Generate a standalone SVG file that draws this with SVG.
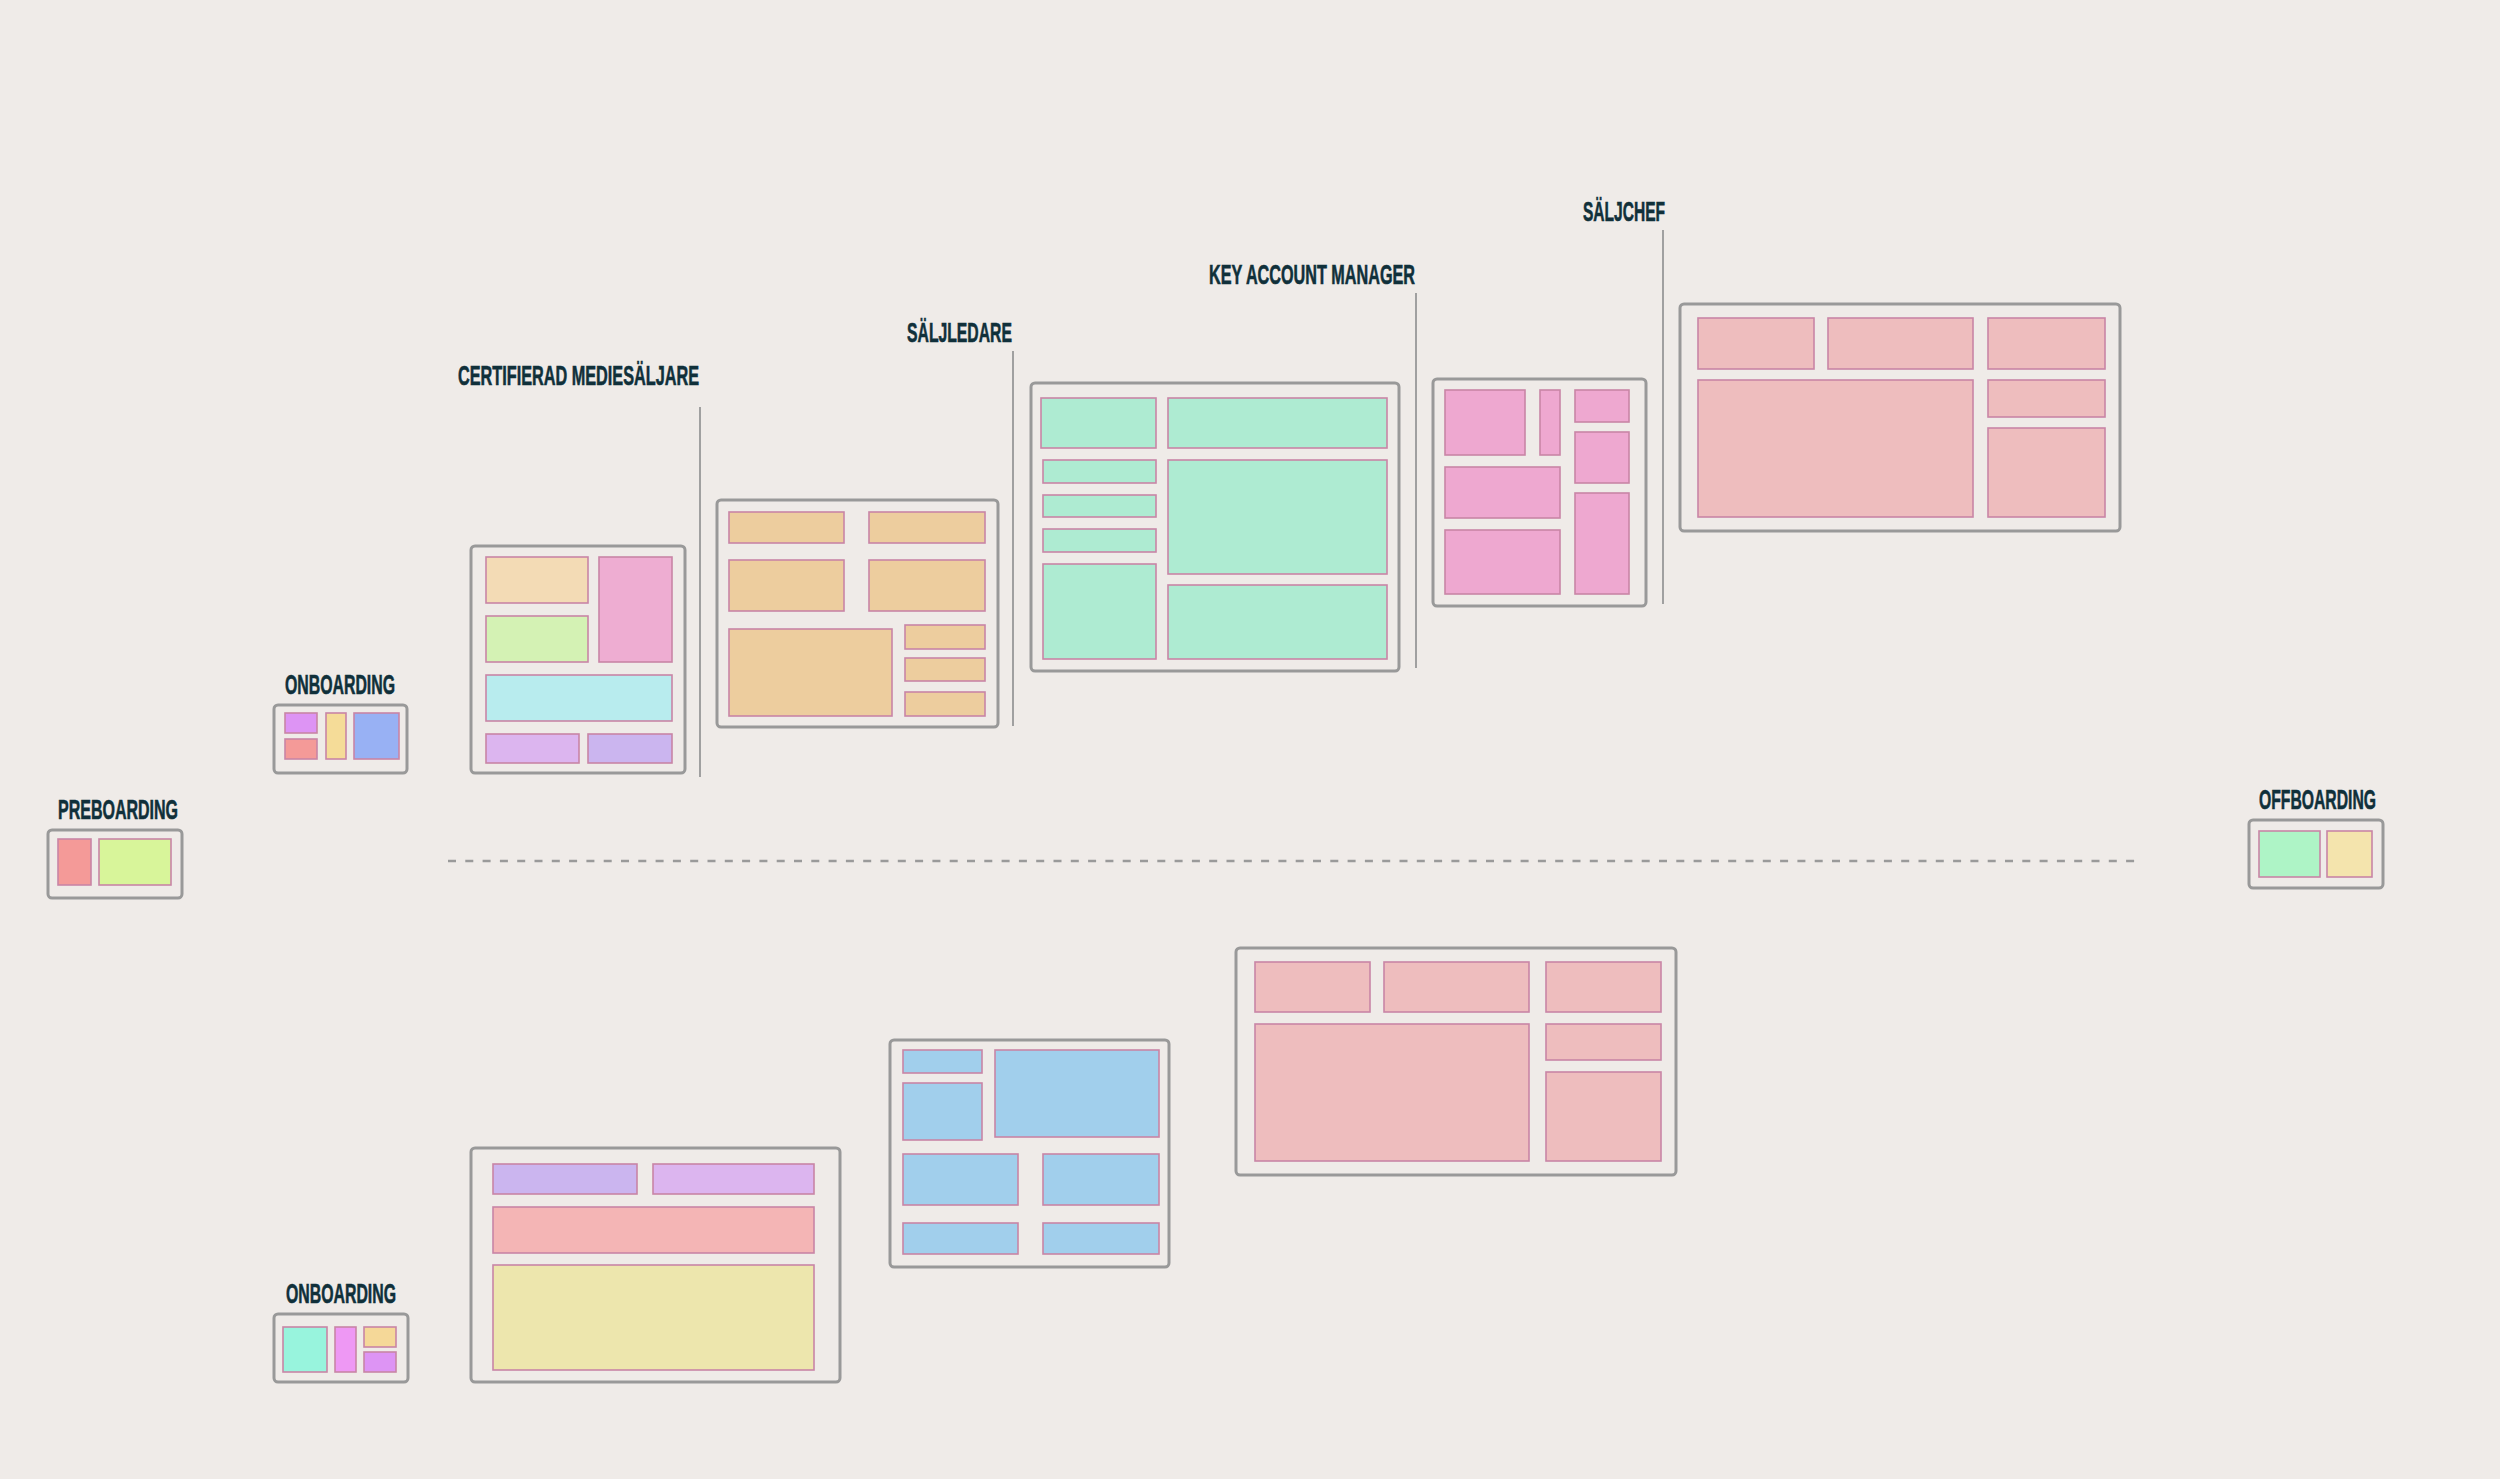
<svg xmlns="http://www.w3.org/2000/svg" width="2500" height="1479" viewBox="0 0 2500 1479">
<style>
.bg{fill:#efebe8}
.box{fill:#efebe8;stroke:#999999;stroke-width:3}
.c{stroke:#c985a6;stroke-width:1.6}
.lbl{font-family:"Liberation Sans","DejaVu Sans",sans-serif;font-weight:bold;font-size:27px;fill:#10303a;stroke:#10303a;stroke-width:0.6}
.vl{stroke:#a0a0a0;stroke-width:2;fill:none}
</style>
<rect class="bg" x="0" y="0" width="2500" height="1479"/>

<g id="connectors">
<line class="vl" x1="700" y1="407" x2="700" y2="777"/>
<line class="vl" x1="1013" y1="351" x2="1013" y2="726"/>
<line class="vl" x1="1416" y1="293" x2="1416" y2="668"/>
<line class="vl" x1="1663" y1="230" x2="1663" y2="604"/>
<line x1="448" y1="861" x2="2140" y2="861" stroke="#9a9a9a" stroke-width="2.5" stroke-dasharray="8 9.3"/>
</g>

<g id="preboarding">
<text class="lbl" x="58" y="819" textLength="120" lengthAdjust="spacingAndGlyphs">PREBOARDING</text>
<rect class="box" x="48" y="830" width="134" height="68" rx="4"/>
<rect class="c" x="58" y="839" width="33" height="46" fill="#f49a98"/>
<rect class="c" x="99" y="839" width="72" height="46" fill="#d8f59a"/>
</g>

<g id="onboarding-top">
<text class="lbl" x="285" y="694" textLength="110" lengthAdjust="spacingAndGlyphs">ONBOARDING</text>
<rect class="box" x="274" y="705" width="133" height="68" rx="4"/>
<rect class="c" x="285" y="713" width="32" height="20" fill="#dd94f4"/>
<rect class="c" x="285" y="739" width="32" height="20" fill="#f49a98"/>
<rect class="c" x="326" y="713" width="20" height="46" fill="#f5dc98"/>
<rect class="c" x="354" y="713" width="45" height="46" fill="#98b1f4"/>
</g>

<g id="certifierad">
<text class="lbl" x="458" y="385" textLength="241" lengthAdjust="spacingAndGlyphs">CERTIFIERAD MEDIESÄLJARE</text>
<rect class="box" x="471" y="546" width="214" height="227" rx="4"/>
<rect class="c" x="486" y="557" width="102" height="46" fill="#f3dbb5"/>
<rect class="c" x="599" y="557" width="73" height="105" fill="#eeadd2"/>
<rect class="c" x="486" y="616" width="102" height="46" fill="#d4f2b4"/>
<rect class="c" x="486" y="675" width="186" height="46" fill="#b8ecee"/>
<rect class="c" x="486" y="734" width="93" height="29" fill="#dcb5ef"/>
<rect class="c" x="588" y="734" width="84" height="29" fill="#cbb5ef"/>
</g>

<g id="saljledare">
<text class="lbl" x="907" y="342" textLength="105" lengthAdjust="spacingAndGlyphs">SÄLJLEDARE</text>
<rect class="box" x="717" y="500" width="281" height="227" rx="4"/>
<rect class="c" x="729" y="512" width="115" height="31" fill="#edcd9e"/>
<rect class="c" x="869" y="512" width="116" height="31" fill="#edcd9e"/>
<rect class="c" x="729" y="560" width="115" height="51" fill="#edcd9e"/>
<rect class="c" x="869" y="560" width="116" height="51" fill="#edcd9e"/>
<rect class="c" x="729" y="629" width="163" height="87" fill="#edcd9e"/>
<rect class="c" x="905" y="625" width="80" height="24" fill="#edcd9e"/>
<rect class="c" x="905" y="658" width="80" height="23" fill="#edcd9e"/>
<rect class="c" x="905" y="692" width="80" height="24" fill="#edcd9e"/>
</g>

<g id="key-account-manager">
<text class="lbl" x="1209" y="284" textLength="206" lengthAdjust="spacingAndGlyphs">KEY ACCOUNT MANAGER</text>
<rect class="box" x="1031" y="383" width="368" height="288" rx="4"/>
<rect class="c" x="1041" y="398" width="115" height="50" fill="#aeebd2"/>
<rect class="c" x="1168" y="398" width="219" height="50" fill="#aeebd2"/>
<rect class="c" x="1043" y="460" width="113" height="23" fill="#aeebd2"/>
<rect class="c" x="1043" y="495" width="113" height="22" fill="#aeebd2"/>
<rect class="c" x="1043" y="529" width="113" height="23" fill="#aeebd2"/>
<rect class="c" x="1043" y="564" width="113" height="95" fill="#aeebd2"/>
<rect class="c" x="1168" y="460" width="219" height="114" fill="#aeebd2"/>
<rect class="c" x="1168" y="585" width="219" height="74" fill="#aeebd2"/>
</g>

<g id="kam-extra">
<rect class="box" x="1433" y="379" width="213" height="227" rx="4"/>
<rect class="c" x="1445" y="390" width="80" height="65" fill="#eea8d0"/>
<rect class="c" x="1540" y="390" width="20" height="65" fill="#eea8d0"/>
<rect class="c" x="1575" y="390" width="54" height="32" fill="#eea8d0"/>
<rect class="c" x="1575" y="432" width="54" height="51" fill="#eea8d0"/>
<rect class="c" x="1445" y="467" width="115" height="51" fill="#eea8d0"/>
<rect class="c" x="1445" y="530" width="115" height="64" fill="#eea8d0"/>
<rect class="c" x="1575" y="493" width="54" height="101" fill="#eea8d0"/>
</g>

<g id="saljchef">
<text class="lbl" x="1583" y="221" textLength="82" lengthAdjust="spacingAndGlyphs">SÄLJCHEF</text>
<rect class="box" x="1680" y="304" width="440" height="227" rx="4"/>
<rect class="c" x="1698" y="318" width="116" height="51" fill="#eebdbe" stroke="#dca8b8"/>
<rect class="c" x="1828" y="318" width="145" height="51" fill="#eebdbe" stroke="#dca8b8"/>
<rect class="c" x="1988" y="318" width="117" height="51" fill="#eebdbe" stroke="#dca8b8"/>
<rect class="c" x="1698" y="380" width="275" height="137" fill="#eebdbe" stroke="#dca8b8"/>
<rect class="c" x="1988" y="380" width="117" height="37" fill="#eebdbe" stroke="#dca8b8"/>
<rect class="c" x="1988" y="428" width="117" height="89" fill="#eebdbe" stroke="#dca8b8"/>
</g>

<g id="offboarding">
<text class="lbl" x="2259" y="809" textLength="117" lengthAdjust="spacingAndGlyphs">OFFBOARDING</text>
<rect class="box" x="2249" y="820" width="134" height="68" rx="4"/>
<rect class="c" x="2259" y="831" width="61" height="46" fill="#aef4c6"/>
<rect class="c" x="2327" y="831" width="45" height="46" fill="#f4e4ad"/>
</g>

<g id="onboarding-bottom">
<text class="lbl" x="286" y="1303" textLength="110" lengthAdjust="spacingAndGlyphs">ONBOARDING</text>
<rect class="box" x="274" y="1314" width="134" height="68" rx="4"/>
<rect class="c" x="283" y="1327" width="44" height="45" fill="#98f4dd"/>
<rect class="c" x="335" y="1327" width="21" height="45" fill="#ee98f4"/>
<rect class="c" x="364" y="1327" width="32" height="20" fill="#f5d898"/>
<rect class="c" x="364" y="1352" width="32" height="20" fill="#dd94f4"/>
</g>

<g id="lower-1">
<rect class="box" x="471" y="1148" width="369" height="234" rx="4"/>
<rect class="c" x="493" y="1164" width="144" height="30" fill="#cbb5ef"/>
<rect class="c" x="653" y="1164" width="161" height="30" fill="#dcb5ef"/>
<rect class="c" x="493" y="1207" width="321" height="46" fill="#f4b5b5"/>
<rect class="c" x="493" y="1265" width="321" height="105" fill="#ede6ad"/>
</g>

<g id="lower-2">
<rect class="box" x="890" y="1040" width="279" height="227" rx="4"/>
<rect class="c" x="903" y="1050" width="79" height="23" fill="#a1cfec"/>
<rect class="c" x="903" y="1083" width="79" height="57" fill="#a1cfec"/>
<rect class="c" x="995" y="1050" width="164" height="87" fill="#a1cfec"/>
<rect class="c" x="903" y="1154" width="115" height="51" fill="#a1cfec"/>
<rect class="c" x="1043" y="1154" width="116" height="51" fill="#a1cfec"/>
<rect class="c" x="903" y="1223" width="115" height="31" fill="#a1cfec"/>
<rect class="c" x="1043" y="1223" width="116" height="31" fill="#a1cfec"/>
</g>

<g id="lower-3">
<rect class="box" x="1236" y="948" width="440" height="227" rx="4"/>
<rect class="c" x="1255" y="962" width="115" height="50" fill="#eebdbe" stroke="#dca8b8"/>
<rect class="c" x="1384" y="962" width="145" height="50" fill="#eebdbe" stroke="#dca8b8"/>
<rect class="c" x="1546" y="962" width="115" height="50" fill="#eebdbe" stroke="#dca8b8"/>
<rect class="c" x="1255" y="1024" width="274" height="137" fill="#eebdbe" stroke="#dca8b8"/>
<rect class="c" x="1546" y="1024" width="115" height="36" fill="#eebdbe" stroke="#dca8b8"/>
<rect class="c" x="1546" y="1072" width="115" height="89" fill="#eebdbe" stroke="#dca8b8"/>
</g>
</svg>
